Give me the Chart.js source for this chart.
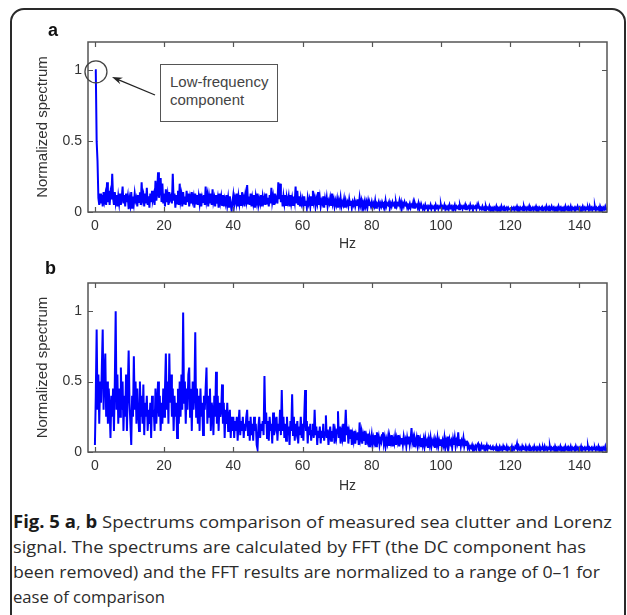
<!DOCTYPE html>
<html>
<head>
<meta charset="utf-8">
<script src="https://cdn.jsdelivr.net/npm/chart.js@4.4.1/dist/chart.umd.min.js"></script>
<style>
  body { margin: 0; width: 627px; height: 615px; overflow: hidden; background: #fff; position: relative; }
  .frame { position: absolute; left: 10px; top: 8px; width: 616px; height: 630px; box-sizing: border-box;
           border: 2px solid #2a2a2a; border-radius: 14px; }
  canvas { position: absolute; left: 0; }
  #chartA { top: 0; }
  #chartB { top: 258px; }
  .panel { position: absolute; font: bold 18px "Liberation Sans", Arial, sans-serif; color: #111; }
  .note { position: absolute; left: 160px; top: 64px; width: 118px; height: 58px; box-sizing: border-box;
          border: 1.5px solid #555; background: #fff; font: 15px "Liberation Sans", Arial, sans-serif;
          color: #444; line-height: 18px; padding: 8px 0 0 9px; }
  .caption { position: absolute; left: 13px; top: 509px; font: 17px "Open Sans", sans-serif; color: #2b2b2b;
             line-height: 25px; white-space: nowrap; }
  .caption span { display: inline-block; transform-origin: 0 50%; }
  .caption b { font-weight: bold; color: #1a1a1a; }
</style>
</head>
<body>
<div class="frame"></div>
<canvas id="chartA" width="627" height="258"></canvas>
<canvas id="chartB" width="627" height="240"></canvas>
<div class="panel" style="left:48px;top:20px;">a</div>
<div class="panel" style="left:45px;top:258px;">b</div>
<div class="note">Low-frequency<br>component</div>
<div class="caption">
  <div><span data-w="599"><b>Fig. 5 a</b>, <b>b</b> Spectrums comparison of measured sea clutter and Lorenz</span></div>
  <div><span data-w="573">signal. The spectrums are calculated by FFT (the DC component has</span></div>
  <div><span data-w="587">been removed) and the FFT results are normalized to a range of 0–1 for</span></div>
  <div><span data-w="152">ease of comparison</span></div>
</div>
<script>
// spectra sampled every 0.25 Hz from 0 to 148 Hz
const hzStep = 0.25;
const xTicks = [0, 20, 40, 60, 80, 100, 120, 140];
const yTicks = [0, 0.5, 1];

// (a) measured sea clutter, one row = 5 Hz
const seaClutter = [
  1.0, 1.0, 0.5, 0.36, 0.10, 0.05, 0.13, 0.06, 0.12, 0.04, 0.14, 0.08, 0.12, 0.05, 0.21, 0.07, 0.15, 0.05, 0.13, 0.09,
  0.27, 0.10, 0.05, 0.14, 0.07, 0.12, 0.04, 0.11, 0.06, 0.13, 0.05, 0.10, 0.18, 0.06, 0.12, 0.04, 0.13, 0.07, 0.11, 0.02,
  0.09, 0.05, 0.14, 0.03, 0.11, 0.06, 0.13, 0.08, 0.10, 0.04, 0.12, 0.07, 0.14, 0.05, 0.21, 0.09, 0.12, 0.04, 0.13, 0.06,
  0.17, 0.05, 0.11, 0.03, 0.13, 0.07, 0.15, 0.09, 0.12, 0.05, 0.22, 0.08, 0.14, 0.28, 0.10, 0.16, 0.24, 0.07, 0.20, 0.06,
  0.13, 0.04, 0.16, 0.07, 0.12, 0.05, 0.14, 0.09, 0.11, 0.06, 0.27, 0.08, 0.13, 0.03, 0.12, 0.06, 0.15, 0.05, 0.20, 0.08,
  0.12, 0.04, 0.14, 0.06, 0.11, 0.05, 0.15, 0.07, 0.13, 0.04, 0.10, 0.06, 0.14, 0.08, 0.11, 0.03, 0.13, 0.06, 0.12, 0.05,
  0.11, 0.06, 0.13, 0.04, 0.10, 0.07, 0.12, 0.05, 0.18, 0.08, 0.12, 0.04, 0.11, 0.06, 0.13, 0.05, 0.16, 0.07, 0.10, 0.04,
  0.12, 0.06, 0.10, 0.03, 0.13, 0.07, 0.11, 0.05, 0.12, 0.04, 0.09, 0.06, 0.12, 0.05, 0.10, 0.03, 0.11, 0.05, 0.01, 0.07,
  0.12, 0.05, 0.10, 0.07, 0.13, 0.04, 0.11, 0.06, 0.12, 0.05, 0.14, 0.07, 0.10, 0.04, 0.12, 0.08, 0.19, 0.06, 0.11, 0.05,
  0.13, 0.04, 0.10, 0.06, 0.12, 0.03, 0.11, 0.07, 0.13, 0.05, 0.09, 0.06, 0.12, 0.04, 0.11, 0.07, 0.10, 0.05, 0.13, 0.06,
  0.10, 0.04, 0.12, 0.06, 0.17, 0.07, 0.11, 0.05, 0.13, 0.08, 0.10, 0.06, 0.21, 0.09, 0.20, 0.07, 0.12, 0.04, 0.11, 0.06,
  0.12, 0.05, 0.10, 0.07, 0.11, 0.04, 0.12, 0.06, 0.10, 0.05, 0.11, 0.07, 0.18, 0.06, 0.15, 0.05, 0.11, 0.04, 0.10, 0.06,
  0.09, 0.04, 0.11, 0.05, 0.08, 0.03, 0.10, 0.06, 0.09, 0.04, 0.11, 0.05, 0.15, 0.07, 0.10, 0.04, 0.09, 0.06, 0.14, 0.05,
  0.10, 0.04, 0.08, 0.06, 0.11, 0.03, 0.09, 0.05, 0.10, 0.04, 0.08, 0.06, 0.10, 0.05, 0.13, 0.06, 0.09, 0.04, 0.08, 0.05,
  0.09, 0.03, 0.08, 0.05, 0.10, 0.04, 0.07, 0.05, 0.09, 0.03, 0.08, 0.05, 0.07, 0.04, 0.09, 0.05, 0.08, 0.03, 0.07, 0.05,
  0.08, 0.04, 0.07, 0.05, 0.09, 0.04, 0.10, 0.05, 0.08, 0.03, 0.07, 0.05, 0.08, 0.04, 0.07, 0.03, 0.08, 0.05, 0.06, 0.04,
  0.07, 0.03, 0.06, 0.04, 0.08, 0.03, 0.06, 0.05, 0.07, 0.03, 0.06, 0.04, 0.07, 0.05, 0.06, 0.03, 0.08, 0.04, 0.06, 0.05,
  0.07, 0.03, 0.06, 0.04, 0.07, 0.05, 0.06, 0.03, 0.07, 0.04, 0.06, 0.05, 0.08, 0.04, 0.07, 0.03, 0.06, 0.04, 0.07, 0.05,
  0.06, 0.03, 0.05, 0.04, 0.06, 0.03, 0.05, 0.04, 0.07, 0.03, 0.06, 0.04, 0.05, 0.03, 0.06, 0.02, 0.05, 0.03, 0.04, 0.02,
  0.04, 0.02, 0.05, 0.03, 0.04, 0.02, 0.04, 0.03, 0.05, 0.02, 0.04, 0.03, 0.04, 0.02, 0.05, 0.03, 0.04, 0.02, 0.04, 0.03,
  0.05, 0.02, 0.04, 0.03, 0.05, 0.02, 0.04, 0.03, 0.04, 0.02, 0.05, 0.03, 0.04, 0.02, 0.04, 0.03, 0.05, 0.02, 0.04, 0.03,
  0.04, 0.02, 0.05, 0.03, 0.04, 0.02, 0.04, 0.03, 0.05, 0.02, 0.04, 0.03, 0.04, 0.02, 0.05, 0.03, 0.04, 0.02, 0.04, 0.03,
  0.04, 0.02, 0.05, 0.03, 0.04, 0.02, 0.03, 0.02, 0.04, 0.02, 0.03, 0.01, 0.04, 0.02, 0.03, 0.02, 0.04, 0.01, 0.03, 0.02,
  0.03, 0.01, 0.03, 0.02, 0.04, 0.01, 0.03, 0.02, 0.03, 0.01, 0.04, 0.02, 0.03, 0.01, 0.03, 0.02, 0.03, 0.01, 0.03, 0.02,
  0.02, 0.01, 0.03, 0.02, 0.03, 0.01, 0.03, 0.02, 0.04, 0.02, 0.03, 0.01, 0.03, 0.02, 0.03, 0.01, 0.04, 0.02, 0.03, 0.01,
  0.03, 0.02, 0.04, 0.01, 0.03, 0.02, 0.03, 0.01, 0.03, 0.02, 0.04, 0.02, 0.03, 0.01, 0.03, 0.02, 0.03, 0.01, 0.03, 0.02,
  0.03, 0.01, 0.04, 0.02, 0.03, 0.01, 0.03, 0.02, 0.04, 0.02, 0.03, 0.01, 0.03, 0.02, 0.03, 0.01, 0.04, 0.02, 0.03, 0.01,
  0.03, 0.02, 0.03, 0.01, 0.04, 0.02, 0.03, 0.01, 0.03, 0.02, 0.04, 0.01, 0.03, 0.02, 0.03, 0.01, 0.03, 0.02, 0.04, 0.02,
  0.03, 0.01, 0.03, 0.02, 0.04, 0.02, 0.03, 0.01, 0.03, 0.02, 0.03, 0.01, 0.04, 0.02, 0.03, 0.01, 0.03, 0.02, 0.04, 0.01,
  0.03, 0.02, 0.03, 0.01, 0.04, 0.02, 0.03, 0.01, 0.03, 0.02, 0.04, 0.02, 0.03
];

// (b) Lorenz signal, one row = 5 Hz
const lorenz = [
  0.05, 0.40, 0.87, 0.30, 0.55, 0.20, 0.50, 0.35, 0.60, 0.87, 0.30, 0.55, 0.70, 0.25, 0.50, 0.20, 0.45, 0.30, 0.10, 0.40,
  0.25, 0.45, 0.15, 0.50, 1.00, 0.30, 0.55, 0.20, 0.45, 0.25, 0.60, 0.30, 0.50, 0.15, 0.40, 0.25, 0.55, 0.15, 0.45, 0.72,
  0.35, 0.20, 0.05, 0.40, 0.25, 0.68, 0.30, 0.50, 0.20, 0.45, 0.30, 0.15, 0.50, 0.25, 0.40, 0.20, 0.48, 0.12, 0.35, 0.25,
  0.40, 0.15, 0.30, 0.20, 0.35, 0.10, 0.40, 0.25, 0.30, 0.15, 0.45, 0.20, 0.35, 0.50, 0.25, 0.40, 0.15, 0.35, 0.20, 0.45,
  0.25, 0.45, 0.70, 0.30, 0.50, 0.20, 0.70, 0.35, 0.55, 0.25, 0.45, 0.15, 0.40, 0.25, 0.35, 0.10, 0.45, 0.20, 0.50, 0.25,
  0.55, 0.30, 0.99, 0.35, 0.50, 0.20, 0.45, 0.30, 0.55, 0.60, 0.25, 0.45, 0.15, 0.50, 0.30, 0.40, 0.85, 0.25, 0.45, 0.20,
  0.40, 0.15, 0.45, 0.25, 0.35, 0.12, 0.40, 0.30, 0.45, 0.60, 0.20, 0.40, 0.25, 0.45, 0.15, 0.35, 0.30, 0.12, 0.40, 0.25,
  0.57, 0.20, 0.40, 0.15, 0.35, 0.25, 0.30, 0.48, 0.20, 0.35, 0.10, 0.30, 0.20, 0.35, 0.15, 0.25, 0.30, 0.10, 0.25, 0.15,
  0.25, 0.10, 0.22, 0.15, 0.25, 0.08, 0.20, 0.30, 0.12, 0.22, 0.15, 0.25, 0.10, 0.20, 0.15, 0.25, 0.30, 0.12, 0.22, 0.08,
  0.25, 0.12, 0.20, 0.08, 0.25, 0.15, 0.20, 0.05, 0.02, 0.18, 0.25, 0.10, 0.20, 0.15, 0.22, 0.12, 0.54, 0.20, 0.28, 0.10,
  0.22, 0.08, 0.25, 0.15, 0.20, 0.06, 0.28, 0.12, 0.22, 0.18, 0.25, 0.08, 0.20, 0.15, 0.30, 0.12, 0.44, 0.15, 0.25, 0.10,
  0.20, 0.08, 0.25, 0.12, 0.18, 0.05, 0.22, 0.15, 0.41, 0.12, 0.25, 0.08, 0.20, 0.15, 0.22, 0.06, 0.18, 0.12, 0.25, 0.10,
  0.20, 0.08, 0.25, 0.44, 0.15, 0.22, 0.06, 0.18, 0.12, 0.20, 0.08, 0.15, 0.20, 0.10, 0.30, 0.12, 0.18, 0.05, 0.15, 0.10,
  0.18, 0.06, 0.15, 0.10, 0.20, 0.08, 0.14, 0.26, 0.10, 0.16, 0.05, 0.12, 0.18, 0.08, 0.15, 0.10, 0.20, 0.06, 0.14, 0.10,
  0.16, 0.29, 0.10, 0.18, 0.06, 0.14, 0.10, 0.20, 0.08, 0.15, 0.30, 0.12, 0.18, 0.06, 0.14, 0.10, 0.16, 0.05, 0.12, 0.08,
  0.15, 0.06, 0.12, 0.09, 0.14, 0.05, 0.21, 0.10, 0.14, 0.06, 0.12, 0.08, 0.15, 0.05, 0.11, 0.08, 0.13, 0.04, 0.10, 0.07,
  0.12, 0.05, 0.10, 0.07, 0.12, 0.04, 0.14, 0.08, 0.11, 0.05, 0.09, 0.07, 0.12, 0.14, 0.06, 0.10, 0.04, 0.09, 0.06, 0.11,
  0.05, 0.10, 0.07, 0.12, 0.04, 0.09, 0.06, 0.11, 0.05, 0.10, 0.07, 0.12, 0.04, 0.09, 0.06, 0.10, 0.05, 0.11, 0.07, 0.09,
  0.04, 0.10, 0.06, 0.11, 0.05, 0.09, 0.17, 0.07, 0.10, 0.04, 0.09, 0.06, 0.10, 0.05, 0.12, 0.06, 0.09, 0.04, 0.10, 0.05,
  0.09, 0.04, 0.10, 0.06, 0.08, 0.03, 0.09, 0.05, 0.10, 0.04, 0.08, 0.06, 0.09, 0.03, 0.08, 0.05, 0.10, 0.04, 0.08, 0.05,
  0.09, 0.04, 0.08, 0.05, 0.10, 0.03, 0.08, 0.05, 0.11, 0.04, 0.09, 0.06, 0.08, 0.03, 0.09, 0.05, 0.10, 0.04, 0.08, 0.06,
  0.14, 0.05, 0.09, 0.04, 0.08, 0.06, 0.10, 0.04, 0.07, 0.05, 0.08, 0.03, 0.05, 0.02, 0.04, 0.03, 0.05, 0.02, 0.04, 0.02,
  0.04, 0.02, 0.05, 0.06, 0.03, 0.04, 0.02, 0.05, 0.03, 0.04, 0.02, 0.04, 0.03, 0.05, 0.02, 0.04, 0.03, 0.04, 0.02, 0.03,
  0.04, 0.02, 0.03, 0.02, 0.04, 0.01, 0.03, 0.02, 0.04, 0.02, 0.03, 0.01, 0.04, 0.02, 0.03, 0.02, 0.04, 0.01, 0.03, 0.02,
  0.03, 0.02, 0.04, 0.01, 0.03, 0.02, 0.04, 0.03, 0.06, 0.02, 0.04, 0.02, 0.03, 0.01, 0.04, 0.02, 0.03, 0.02, 0.04, 0.01,
  0.03, 0.02, 0.04, 0.01, 0.03, 0.02, 0.03, 0.01, 0.04, 0.02, 0.03, 0.01, 0.03, 0.02, 0.04, 0.01, 0.03, 0.02, 0.03, 0.01,
  0.04, 0.02, 0.03, 0.01, 0.03, 0.02, 0.04, 0.01, 0.03, 0.02, 0.03, 0.01, 0.04, 0.02, 0.03, 0.01, 0.03, 0.02, 0.04, 0.01,
  0.03, 0.02, 0.03, 0.01, 0.04, 0.02, 0.03, 0.01, 0.03, 0.02, 0.04, 0.01, 0.03, 0.02, 0.03, 0.01, 0.04, 0.02, 0.03, 0.01,
  0.03, 0.02, 0.04, 0.01, 0.03, 0.02, 0.03, 0.01, 0.03, 0.02, 0.04, 0.01, 0.03, 0.02, 0.03, 0.01, 0.03, 0.02, 0.03, 0.01,
  0.03, 0.02, 0.04, 0.01, 0.03, 0.02, 0.03, 0.01, 0.03, 0.02, 0.04, 0.01, 0.03
];

const FONT = '"Liberation Sans", Arial, sans-serif';
const AXIS = '#555';

// matlab style box with inward ticks on every side
const boxPlugin = {
  id: 'box',
  afterDatasetsDraw(chart) {
    const { ctx, chartArea: a, scales } = chart;
    ctx.save();
    ctx.strokeStyle = AXIS;
    ctx.lineWidth = 1.5;
    ctx.strokeRect(a.left, a.top, a.right - a.left, a.bottom - a.top);
    ctx.lineWidth = 1.2;
    ctx.beginPath();
    xTicks.forEach(v => {
      const px = Math.round(scales.x.getPixelForValue(v)) + 0.5;
      ctx.moveTo(px, a.bottom); ctx.lineTo(px, a.bottom - 5);
      ctx.moveTo(px, a.top); ctx.lineTo(px, a.top + 5);
    });
    yTicks.forEach(v => {
      const py = Math.round(scales.y.getPixelForValue(v)) + 0.5;
      ctx.moveTo(a.left, py); ctx.lineTo(a.left + 5, py);
      ctx.moveTo(a.right, py); ctx.lineTo(a.right - 5, py);
    });
    ctx.stroke();
    ctx.restore();
  }
};

// circle round the DC peak and arrow from the note box
const notePlugin = {
  id: 'note',
  afterDraw(chart) {
    const { ctx, scales } = chart;
    const cx = scales.x.getPixelForValue(0.3);
    const cy = scales.y.getPixelForValue(1) + 1.5;
    ctx.save();
    ctx.strokeStyle = '#444';
    ctx.lineWidth = 1.3;
    ctx.beginPath();
    ctx.arc(cx, cy, 11, 0, Math.PI * 2);
    ctx.stroke();
    const tail = [155, 95], tip = [112, 77];
    const ang = Math.atan2(tip[1] - tail[1], tip[0] - tail[0]);
    ctx.strokeStyle = '#222';
    ctx.beginPath();
    ctx.moveTo(tail[0], tail[1]);
    ctx.lineTo(tip[0] - 6 * Math.cos(ang), tip[1] - 6 * Math.sin(ang));
    ctx.stroke();
    ctx.fillStyle = '#222';
    ctx.beginPath();
    ctx.moveTo(tip[0], tip[1]);
    ctx.lineTo(tip[0] - 11 * Math.cos(ang - 0.32), tip[1] - 11 * Math.sin(ang - 0.32));
    ctx.lineTo(tip[0] - 7 * Math.cos(ang), tip[1] - 7 * Math.sin(ang));
    ctx.lineTo(tip[0] - 11 * Math.cos(ang + 0.32), tip[1] - 11 * Math.sin(ang + 0.32));
    ctx.closePath();
    ctx.fill();
    ctx.restore();
  }
};

function makeChart(id, values, padTop, xHeight, hzPad, extra) {
  const points = values.map((v, i) => ({ x: i * hzStep, y: v }));
  return new Chart(document.getElementById(id), {
    type: 'line',
    data: {
      datasets: [{
        data: points,
        borderColor: '#0000ff',
        borderWidth: 2,
        pointRadius: 0,
        tension: 0,
        fill: false
      }]
    },
    options: {
      responsive: false,
      animation: false,
      devicePixelRatio: 1,
      layout: { padding: { left: 0, right: 20, top: padTop, bottom: 0 } },
      plugins: { legend: { display: false }, tooltip: { enabled: false } },
      scales: {
        x: {
          type: 'linear',
          min: -2,
          max: 148,
          afterBuildTicks: s => { s.ticks = xTicks.map(v => ({ value: v })); },
          afterFit: s => { s.height = xHeight; },
          grid: { display: false, drawTicks: false },
          border: { display: false },
          ticks: { padding: 6, color: '#333', font: { family: FONT, size: 14 }, maxRotation: 0 },
          title: { display: true, text: 'Hz', color: '#333', font: { family: FONT, size: 14 },
                   padding: { top: 0, bottom: hzPad } }
        },
        y: {
          min: 0,
          max: 1.2,
          afterBuildTicks: s => { s.ticks = yTicks.map(v => ({ value: v })); },
          afterFit: s => { s.width = 88; },
          grid: { display: false, drawTicks: false },
          border: { display: false },
          ticks: { padding: 6, color: '#333', font: { family: FONT, size: 14 }, callback: v => String(v) },
          title: { display: true, text: 'Normalized spectrum', color: '#333', font: { family: FONT, size: 15 },
                   padding: { top: 34, bottom: 0 } }
        }
      }
    },
    plugins: [boxPlugin].concat(extra)
  });
}

makeChart('chartA', seaClutter, 42, 46, 5, [notePlugin]);
makeChart('chartB', lorenz, 25, 46, 3, []);

// fit each caption line to the width it has in the original figure
document.querySelectorAll('.caption span[data-w]').forEach(s => {
  const w = s.getBoundingClientRect().width;
  s.style.transform = 'scaleX(' + (Number(s.dataset.w) / w) + ')';
});
</script>
</body>
</html>
